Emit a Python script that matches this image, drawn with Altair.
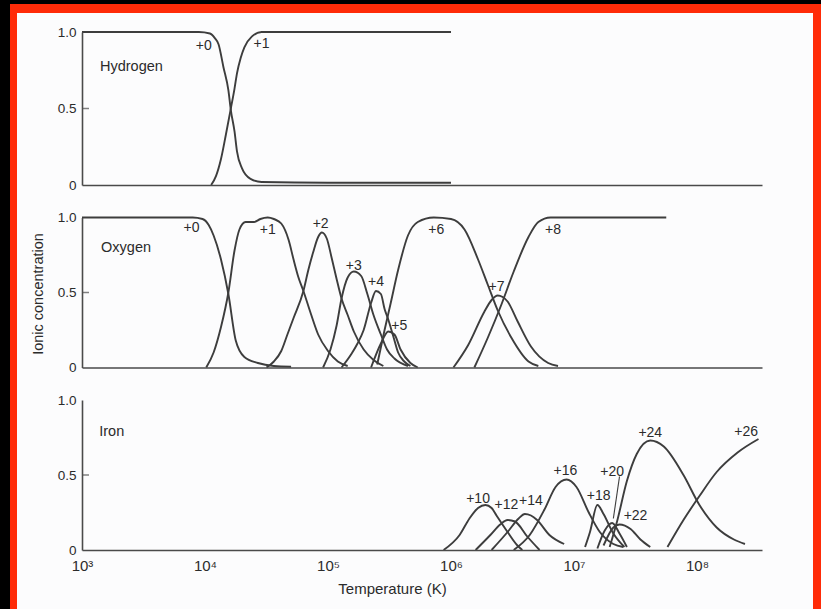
import altair as alt
import pandas as pd

# ---------------- axis ranges / ticks ----------------
T_MIN = 1e3
T_MAX = 10 ** (3 + 680 / 123)
X_TICKS = [1e3, 1e4, 1e5, 1e6, 1e7, 1e8]
Y_TICKS = [0, 0.5, 1.0]

# ---------------- Hydrogen: (log10 T, ionic fraction) ----------------
H_0 = [(3.0, 1.0), (3.95, 1.0), (4.04, 0.99), (4.08, 0.96), (4.11, 0.92), (4.15, 0.77),
       (4.19, 0.62), (4.21, 0.49), (4.24, 0.35), (4.26, 0.22), (4.3, 0.11), (4.37, 0.04),
       (4.46, 0.02), (5.0, 0.015), (6.0, 0.015)]
H_1 = [(4.05, 0.0), (4.09, 0.06), (4.13, 0.17), (4.17, 0.33), (4.21, 0.5), (4.24, 0.63),
       (4.26, 0.73), (4.29, 0.83), (4.32, 0.9), (4.38, 0.97), (4.46, 1.0), (6.0, 1.0)]
H_LABELS = ["+0", "+1"]
H_LABEL_LOGT = [3.99, 4.46]
H_LABEL_FRAC = [0.91, 0.92]

# ---------------- Oxygen ----------------
O_0 = [(3.0, 1.0), (3.9, 1.0), (3.98, 0.99), (4.03, 0.95), (4.07, 0.88), (4.13, 0.72),
       (4.19, 0.49), (4.25, 0.18), (4.32, 0.07), (4.43, 0.03), (4.56, 0.01), (4.7, 0.005)]
O_1 = [(4.01, 0.0), (4.07, 0.1), (4.13, 0.27), (4.19, 0.5), (4.24, 0.78), (4.28, 0.92),
       (4.33, 0.97), (4.4, 0.97), (4.45, 0.99), (4.51, 1.0), (4.56, 0.99), (4.62, 0.96),
       (4.68, 0.85), (4.72, 0.72), (4.76, 0.6), (4.8, 0.51), (4.86, 0.36), (4.92, 0.22),
       (5.0, 0.11), (5.08, 0.04), (5.16, 0.01)]
O_2 = [(4.5, 0.0), (4.56, 0.04), (4.62, 0.11), (4.67, 0.22), (4.72, 0.33), (4.8, 0.51),
       (4.84, 0.65), (4.88, 0.77), (4.92, 0.87), (4.95, 0.9), (4.99, 0.86), (5.03, 0.73),
       (5.07, 0.59), (5.11, 0.46), (5.16, 0.35), (5.21, 0.24), (5.29, 0.12), (5.37, 0.05),
       (5.45, 0.01)]
O_3 = [(4.96, 0.0), (5.02, 0.12), (5.07, 0.28), (5.11, 0.46), (5.16, 0.6), (5.21, 0.64),
       (5.27, 0.61), (5.32, 0.49), (5.37, 0.35), (5.43, 0.22), (5.48, 0.12), (5.54, 0.06),
       (5.65, 0.01)]
O_4 = [(5.11, 0.0), (5.19, 0.09), (5.24, 0.16), (5.29, 0.25), (5.35, 0.43), (5.39, 0.51),
       (5.43, 0.49), (5.46, 0.39), (5.49, 0.32), (5.53, 0.21), (5.57, 0.1), (5.62, 0.04),
       (5.67, 0.01)]
O_5 = [(5.35, 0.0), (5.43, 0.16), (5.49, 0.24), (5.54, 0.22), (5.59, 0.12), (5.67, 0.03),
       (5.73, 0.0)]
O_6 = [(5.4, 0.02), (5.46, 0.25), (5.51, 0.43), (5.57, 0.65), (5.65, 0.88), (5.73, 0.97),
       (5.86, 1.0), (6.0, 0.99), (6.11, 0.92), (6.22, 0.72), (6.3, 0.55), (6.38, 0.38),
       (6.49, 0.2), (6.63, 0.04), (6.71, 0.01)]
O_7 = [(6.02, 0.0), (6.14, 0.15), (6.27, 0.37), (6.33, 0.45), (6.38, 0.48), (6.42, 0.47),
       (6.46, 0.44), (6.54, 0.31), (6.65, 0.14), (6.79, 0.03), (6.87, 0.01)]
O_8 = [(6.19, 0.0), (6.3, 0.2), (6.41, 0.42), (6.51, 0.64), (6.63, 0.87), (6.71, 0.97),
       (6.81, 1.0), (7.75, 1.0)]
O_LABELS = ["+0", "+1", "+2", "+3", "+4", "+5", "+6", "+7", "+8"]
O_LABEL_LOGT = [3.89, 4.51, 4.94, 5.21, 5.39, 5.58, 5.88, 6.37, 6.83]
O_LABEL_FRAC = [0.93, 0.92, 0.96, 0.68, 0.57, 0.28, 0.92, 0.54, 0.92]

# ---------------- Iron ----------------
FE_10 = [(5.94, 0.0), (6.07, 0.1), (6.15, 0.21), (6.22, 0.28), (6.28, 0.3), (6.33, 0.28),
         (6.37, 0.23), (6.46, 0.12), (6.54, 0.03), (6.58, 0.0)]
FE_12 = [(6.2, 0.0), (6.32, 0.1), (6.4, 0.17), (6.46, 0.2), (6.52, 0.19), (6.62, 0.09),
         (6.72, 0.0)]
FE_14 = [(6.33, 0.0), (6.46, 0.12), (6.55, 0.21), (6.6, 0.24), (6.65, 0.23), (6.7, 0.2),
         (6.8, 0.1), (6.92, 0.04)]
FE_16 = [(6.51, 0.0), (6.64, 0.1), (6.76, 0.27), (6.85, 0.42), (6.94, 0.47), (7.02, 0.42),
         (7.12, 0.25), (7.21, 0.12), (7.32, 0.04), (7.4, 0.02)]
FE_18 = [(7.09, 0.02), (7.13, 0.12), (7.19, 0.3), (7.24, 0.24), (7.32, 0.11), (7.41, 0.02)]
FE_20 = [(7.19, 0.01), (7.25, 0.13), (7.31, 0.18), (7.37, 0.11), (7.43, 0.02)]
FE_22 = [(7.24, 0.03), (7.32, 0.15), (7.37, 0.17), (7.46, 0.14), (7.54, 0.07), (7.62, 0.02)]
FE_24 = [(7.29, 0.02), (7.35, 0.19), (7.43, 0.46), (7.51, 0.64), (7.62, 0.73), (7.73, 0.69),
         (7.89, 0.5), (8.02, 0.3), (8.16, 0.15), (8.3, 0.07), (8.39, 0.04)]
FE_26 = [(7.76, 0.02), (7.89, 0.2), (8.02, 0.36), (8.16, 0.52), (8.33, 0.65), (8.5, 0.74)]
FE_LABELS = ["+10", "+12", "+14", "+16", "+18", "+20", "+22", "+24", "+26"]
FE_LABEL_LOGT = [6.22, 6.45, 6.65, 6.93, 7.2, 7.31, 7.5, 7.62, 8.4]
FE_LABEL_FRAC = [0.34, 0.30, 0.33, 0.53, 0.36, 0.52, 0.23, 0.78, 0.79]
FE_LEADER = [(7.37, 0.49), (7.32, 0.21)]   # pointer from "+20" to its curve

# element names: (log10 T of left edge, fraction)
ELEMENTS = ["Hydrogen", "Oxygen", "Iron"]
ELEMENT_LOGT = [3.146, 3.155, 3.14]
ELEMENT_FRAC = [0.77, 0.80, 0.79]

# ---------------- style ----------------
FONT = "Liberation Sans"
LINE = "#3d3d3d"
AXIS = "#4a4a4a"
TEXT = "#2b2b2b"
RED = "#ff2b08"
PAPER = "#fcfcfd"
WIDTH = 680


def curves_df(curves):
    rows = []
    for name, pts in curves.items():
        for lt, f in pts:
            rows.append({"ion": name, "T": 10 ** lt, "frac": f})
    return pd.DataFrame(rows)


def labels_df(labels, logts, fracs):
    return pd.DataFrame({"label": labels, "T": [10 ** v for v in logts], "frac": fracs})


SUP = "['\u2070','\u00b9','\u00b2','\u00b3','\u2074','\u2075','\u2076','\u2077','\u2078','\u2079']"


def x_enc(bottom):
    if bottom:
        axis = alt.Axis(values=X_TICKS, labelExpr="'10' + " + SUP + "[round(log(datum.value)/LN10)]",
                        ticks=False, tickSize=0, labelPadding=8, labelFontSize=15, labelFont=FONT,
                        labelColor=TEXT, labelFlush=False, grid=False, domainColor=AXIS,
                        domainWidth=1.6, title="Temperature (K)", titleFont=FONT, titleFontSize=15,
                        titleFontWeight="normal", titleColor=TEXT, titleX=310, titleY=31, zindex=2)
    else:
        axis = alt.Axis(labels=False, ticks=False, tickSize=0, grid=False, domainColor=AXIS,
                        domainWidth=1.6, title=None, zindex=2)
    return alt.X("T:Q", scale=alt.Scale(type="log", domain=[T_MIN, T_MAX], nice=False), axis=axis)


def y_enc(title):
    kw = dict(values=Y_TICKS, labelExpr="datum.value == 0 ? '0' : format(datum.value, '.1f')",
              ticks=False, tickSize=0, labelPadding=6, labelFontSize=13.5, labelFont=FONT,
              labelColor=TEXT, labelFlush=False, grid=False, domainColor=AXIS, domainWidth=1.6,
              zindex=2)
    if title:
        axis = alt.Axis(title=title, titleFont=FONT, titleFontSize=14.5, titleFontWeight="normal",
                        titleColor=TEXT, titleX=-44, titleY=76, titleBaseline="middle", **kw)
    else:
        axis = alt.Axis(title=None, **kw)
    return alt.Y("frac:Q", scale=alt.Scale(domain=[0, 1], nice=False), axis=axis)


def panel(curves, labels, element_idx, height, bottom=False, ytitle=None, tick_fracs=(0.5,),
          extra=None, frame=False):
    X = x_enc(bottom)
    Y = y_enc(ytitle)
    layers = []
    if frame:
        one = pd.DataFrame({"k": [0]})
        layers.append(alt.Chart(one).mark_rect(color=RED).encode(
            x=alt.value(-72), x2=alt.value(739), y=alt.value(-28), y2=alt.value(577)))
        layers.append(alt.Chart(one).mark_rect(color=PAPER).encode(
            x=alt.value(-65), x2=alt.value(731), y=alt.value(-19), y2=alt.value(577)))
    layers.append(alt.Chart(curves_df(curves)).mark_line(
        interpolate="monotone", color=LINE, strokeWidth=1.9).encode(x=X, y=Y, detail="ion:N"))
    ticks = pd.DataFrame({"T": [T_MIN] * len(tick_fracs), "frac": list(tick_fracs)})
    layers.append(alt.Chart(ticks).mark_tick(orient="horizontal", size=7, thickness=1.5,
                                             xOffset=3.5, color=AXIS).encode(x=X, y=Y))
    if extra is not None:
        layers.append(extra)
    layers.append(alt.Chart(labels).mark_text(font=FONT, fontSize=14, color=TEXT).encode(
        x=X, y=Y, text="label:N"))
    name = labels_df([ELEMENTS[element_idx]], [ELEMENT_LOGT[element_idx]],
                     [ELEMENT_FRAC[element_idx]])
    layers.append(alt.Chart(name).mark_text(font=FONT, fontSize=14.5, color=TEXT, align="left").encode(
        x=X, y=Y, text="label:N"))
    return alt.layer(*layers).properties(width=WIDTH, height=height)


hydrogen = panel({"+0": H_0, "+1": H_1},
                 labels_df(H_LABELS, H_LABEL_LOGT, H_LABEL_FRAC), 0, 153, frame=True)

oxygen = panel({"+0": O_0, "+1": O_1, "+2": O_2, "+3": O_3, "+4": O_4, "+5": O_5,
                "+6": O_6, "+7": O_7, "+8": O_8},
               labels_df(O_LABELS, O_LABEL_LOGT, O_LABEL_FRAC), 1, 150,
               ytitle="Ionic concentration")

leader_df = pd.DataFrame({"T": [10 ** FE_LEADER[0][0]], "frac": [FE_LEADER[0][1]],
                          "T2": [10 ** FE_LEADER[1][0]], "frac2": [FE_LEADER[1][1]]})
leader = alt.Chart(leader_df).mark_rule(color=LINE, strokeWidth=1.1).encode(
    x=x_enc(True), y=y_enc(None), x2="T2:Q", y2="frac2:Q")

iron = panel({"+10": FE_10, "+12": FE_12, "+14": FE_14, "+16": FE_16, "+18": FE_18,
              "+20": FE_20, "+22": FE_22, "+24": FE_24, "+26": FE_26},
             labels_df(FE_LABELS, FE_LABEL_LOGT, FE_LABEL_FRAC), 2, 150, bottom=True,
             tick_fracs=(0.5,), extra=leader)

chart = alt.vconcat(hydrogen, oxygen, iron, spacing=32.5, bounds="flush").properties(
    background="black",
    padding={"left": 10, "top": 4, "right": 0, "bottom": 0},
).configure_view(strokeOpacity=0)

chart.save("out.html", embed_options={"renderer": "svg", "actions": False})
